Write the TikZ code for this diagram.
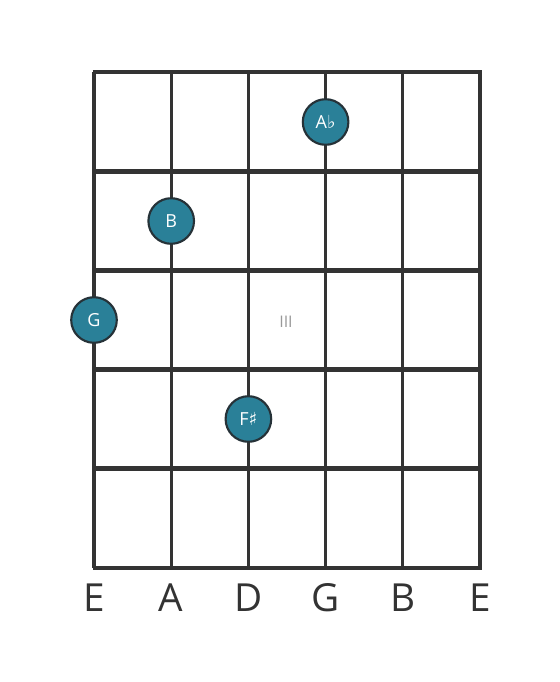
\documentclass[tikz,border=0pt]{standalone}
\usepackage{fontspec}
\setmainfont{Open Sans}
\newfontfamily\symfont{DejaVu Sans}
\usetikzlibrary{positioning}
\definecolor{gridcol}{HTML}{333333}
\definecolor{dotfill}{HTML}{2A8098}
\definecolor{dotline}{HTML}{263238}
\definecolor{marktext}{HTML}{999999}
\tikzset{
	fret/.style={draw=gridcol, line width=3.6pt},
	gstring/.style={draw=gridcol, line width=2.3pt},
	note/.style={
		circle,
		fill=dotfill,
		draw=dotline, line width=1.6pt,
		minimum size=34.2pt,
		inner sep=0pt,
		text=white,
		font=\fontsize{13.5}{13.5}\selectfont},
	strlabel/.style={
		text=gridcol,
		font=\fontsize{29}{29}\selectfont},
	posmark/.style={
		text=marktext,
		font=\fontsize{12}{12}\selectfont},
}
\begin{document}
\begin{tikzpicture}[x=0.75pt,y=-0.75pt]
	\useasboundingbox (0,0) rectangle (560,682);
	% strings
	\foreach \s in {0,...,5}
		\draw[gstring] (94+77.2*\s,72) -- (94+77.2*\s,568);
	% frets
	\foreach \f in {0,...,5}
		\draw[fret] (92.5,72+99.2*\f) -- (481.5,72+99.2*\f);
	
	% string names
	\foreach \n [count=\i from 0] in {E,A,D,G,B,E}
		\node[strlabel] (lab\i) at (94+77.2*\i,598) {\n};
	
	\node[posmark] (mark) at (286,322) {III};
	
	% notes
	\node[note] (ab) at (325.6,122) {A{\symfont\char"266D}};
	\node[note] (b) at (171.2,221) {B};
	\node[note] (g) at (94,320) {G};
	\node[note] (fs) at (248.4,419) {F{\symfont\char"266F}};
\end{tikzpicture}
\end{document}
